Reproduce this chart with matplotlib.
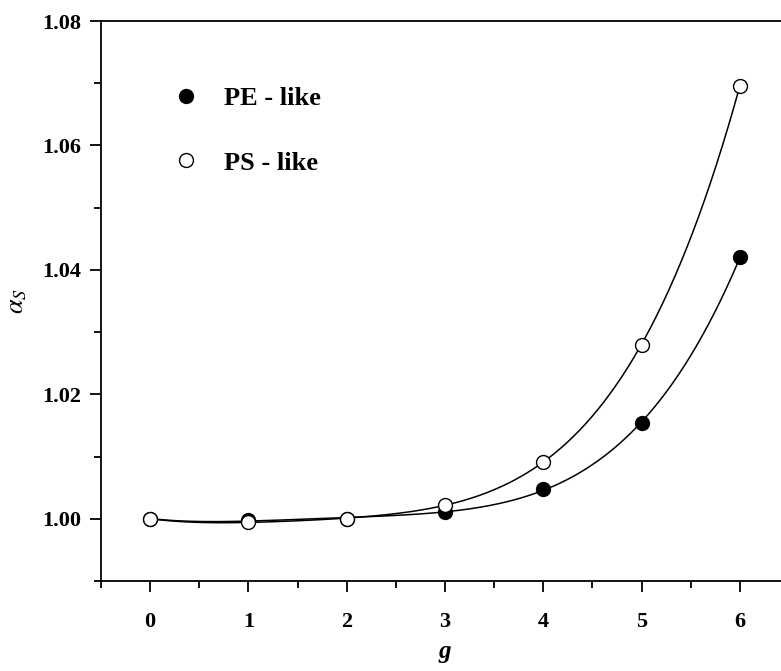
import numpy as np
import matplotlib.pyplot as plt
from matplotlib.ticker import MultipleLocator

# data
g = [0, 1, 2, 3, 4, 5, 6]
pe_like = [1.0000, 0.9998, 1.0000, 1.0011, 1.0048, 1.0154, 1.0420]
ps_like = [1.0000, 0.9995, 1.0000, 1.0022, 1.0092, 1.0280, 1.0696]

plt.rcParams["font.family"] = ["Liberation Serif", "DejaVu Serif"]
plt.rcParams["mathtext.fontset"] = "stix"

fig = plt.figure(figsize=(7.81, 6.71), dpi=100)
ax = fig.add_axes([0.1293, 0.1341, 0.881, 0.8346])

# smooth fitted curves through the points
gg = np.linspace(0, 6, 300)
for ys in (pe_like, ps_like):
    coef = np.polyfit(g, ys, 4)
    ax.plot(gg, np.polyval(coef, gg), color="black", lw=1.1, zorder=2)

ax.plot(g, pe_like, "o", ms=10, mfc="black", mec="black", mew=1.0, zorder=3,
        label="PE - like")
ax.plot(g, ps_like, "o", ms=10, mfc="white", mec="black", mew=1.0, zorder=4,
        label="PS - like")

ax.set_xlim(-0.5, 6.5)
ax.set_ylim(0.99, 1.08)
ax.xaxis.set_major_locator(MultipleLocator(1))
ax.xaxis.set_minor_locator(MultipleLocator(0.5))
ax.yaxis.set_major_locator(MultipleLocator(0.02))
ax.yaxis.set_minor_locator(MultipleLocator(0.01))
ax.yaxis.set_major_formatter(plt.FormatStrFormatter("%.2f"))

ax.tick_params(which="major", direction="out", length=8, width=1.3,
               labelsize=16, pad=6)
ax.tick_params(axis="x", which="major", pad=14)
ax.tick_params(which="minor", direction="out", length=5, width=1.3)
for lab in ax.get_xticklabels() + ax.get_yticklabels():
    lab.set_fontweight("bold")

for side in ("left", "top", "bottom"):
    ax.spines[side].set_linewidth(1.3)
ax.spines["right"].set_visible(False)

ax.set_xlabel("g", fontsize=18, fontweight="bold", style="italic", labelpad=6)
ax.set_ylabel(r"$\alpha_S$", fontsize=19, labelpad=10)

leg = ax.legend(loc="upper left", bbox_to_anchor=(0.07, 0.925), frameon=False,
                prop={"weight": "bold", "size": 19}, labelspacing=1.55,
                handletextpad=0.95, handlelength=1.0)

fig.savefig("out.png", dpi=100)
